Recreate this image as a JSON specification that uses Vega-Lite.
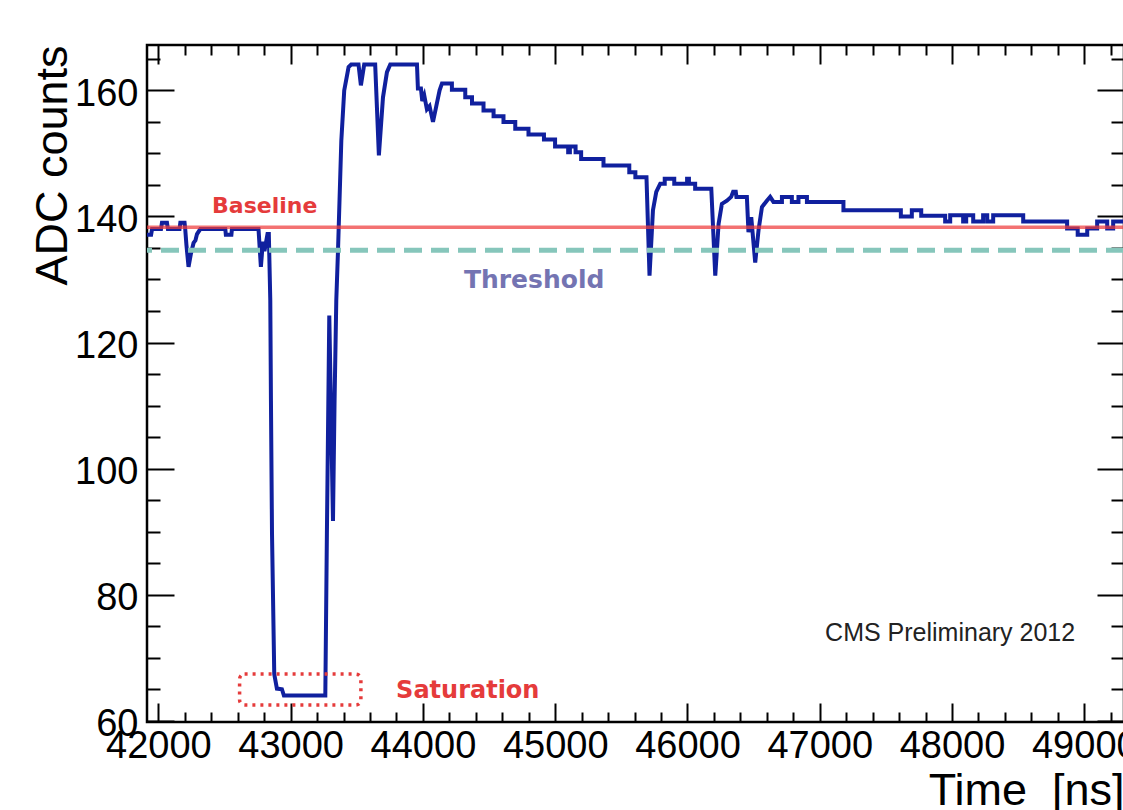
{
  "$schema": "https://vega.github.io/schema/vega-lite/v6.json",
  "width": 977,
  "height": 677,
  "autosize": {"type": "none"},
  "padding": {"left": 147, "top": 45, "right": 0, "bottom": 88},
  "background": "white",
  "config": {"view": {"stroke": "#000", "strokeWidth": 2.5}},
  "resolve": {"axis": {"x": "independent", "y": "independent"}},
  "layer": [
    {
      "data": {"values": [
        {"t":41914,"adc":137.1},{"t":41945,"adc":137.1},{"t":41952,"adc":138},{"t":42020,"adc":138},{"t":42027,"adc":139},{"t":42065,"adc":139},{"t":42072,"adc":138},
        {"t":42160,"adc":138},{"t":42166,"adc":139},{"t":42198,"adc":139},{"t":42203,"adc":138},{"t":42212,"adc":135.5},{"t":42228,"adc":132},{"t":42245,"adc":134},{"t":42266,"adc":135.8},{"t":42280,"adc":136.2},{"t":42292,"adc":137.2},{"t":42317,"adc":138},
        {"t":42506,"adc":138},{"t":42510,"adc":137.1},{"t":42552,"adc":137.1},{"t":42556,"adc":138},{"t":42757,"adc":138},{"t":42775,"adc":132},{"t":42790,"adc":136},{"t":42802,"adc":134.5},{"t":42825,"adc":137.2},{"t":42835,"adc":137.2},
        {"t":42846,"adc":126.7},{"t":42851,"adc":110.8},{"t":42859,"adc":89.7},{"t":42876,"adc":67.4},{"t":42896,"adc":65.1},{"t":42934,"adc":65},{"t":42949,"adc":64},{"t":43262,"adc":64},
        {"t":43274,"adc":89.7},{"t":43292,"adc":124.3},{"t":43320,"adc":91.7},{"t":43332,"adc":110.8},{"t":43345,"adc":126.7},{"t":43358,"adc":134.6},{"t":43383,"adc":152},{"t":43405,"adc":160},{"t":43438,"adc":163.7},{"t":43458,"adc":164.1},
        {"t":43513,"adc":164.1},{"t":43531,"adc":160.8},{"t":43556,"adc":164.1},{"t":43639,"adc":164.1},{"t":43667,"adc":149.7},{"t":43698,"adc":158.9},{"t":43728,"adc":162.9},{"t":43753,"adc":164.1},{"t":43955,"adc":164.1},
        {"t":43962,"adc":160.3},{"t":43985,"adc":160.3},{"t":43995,"adc":158.3},{"t":44010,"adc":159.2},{"t":44030,"adc":157},{"t":44050,"adc":157.5},{"t":44076,"adc":155},{"t":44101,"adc":157.5},{"t":44126,"adc":160},{"t":44144,"adc":161.1},
        {"t":44219,"adc":161.1},{"t":44219,"adc":160.1},{"t":44320,"adc":160.1},{"t":44320,"adc":158.9},{"t":44371,"adc":158.9},{"t":44371,"adc":157.9},{"t":44458,"adc":157.9},{"t":44458,"adc":156.8},{"t":44534,"adc":156.8},{"t":44534,"adc":155.9},
        {"t":44609,"adc":155.9},{"t":44609,"adc":155},{"t":44698,"adc":155},{"t":44698,"adc":153.9},{"t":44798,"adc":153.9},{"t":44798,"adc":153},{"t":44915,"adc":153},{"t":44915,"adc":152.2},{"t":44999,"adc":152.2},{"t":44999,"adc":151.1},
        {"t":45098,"adc":151.1},{"t":45098,"adc":150.2},{"t":45111,"adc":150.2},{"t":45111,"adc":151.1},{"t":45154,"adc":151.1},{"t":45154,"adc":150.2},{"t":45196,"adc":150.2},{"t":45196,"adc":149.1},{"t":45365,"adc":149.1},{"t":45365,"adc":148.1},
        {"t":45560,"adc":148.1},{"t":45560,"adc":147},{"t":45606,"adc":147},{"t":45606,"adc":146.2},{"t":45690,"adc":146.2},{"t":45713,"adc":130.6},{"t":45739,"adc":141},{"t":45764,"adc":143.9},{"t":45794,"adc":145.2},
        {"t":45828,"adc":145.2},{"t":45828,"adc":146},{"t":45900,"adc":146},{"t":45900,"adc":145.2},{"t":45997,"adc":145.2},{"t":45997,"adc":146},{"t":46011,"adc":146},{"t":46011,"adc":145.2},{"t":46058,"adc":145.2},{"t":46058,"adc":144.4},{"t":46180,"adc":144.4},
        {"t":46210,"adc":130.6},{"t":46235,"adc":138.8},{"t":46260,"adc":142},{"t":46298,"adc":142.5},{"t":46330,"adc":143.1},{"t":46345,"adc":143.9},{"t":46365,"adc":143.9},{"t":46370,"adc":143.1},{"t":46449,"adc":143.1},
        {"t":46461,"adc":137.5},{"t":46482,"adc":139.9},{"t":46512,"adc":132.7},{"t":46537,"adc":137.8},{"t":46563,"adc":141.5},{"t":46600,"adc":142.5},{"t":46625,"adc":143.1},{"t":46650,"adc":142.3},
        {"t":46714,"adc":142.3},{"t":46714,"adc":143.1},{"t":46789,"adc":143.1},{"t":46789,"adc":142.3},{"t":46839,"adc":142.3},{"t":46839,"adc":143.1},{"t":46903,"adc":143.1},{"t":46903,"adc":142.3},{"t":47179,"adc":142.3},{"t":47179,"adc":141},
        {"t":47613,"adc":141},{"t":47613,"adc":140},{"t":47696,"adc":140},{"t":47696,"adc":141},{"t":47767,"adc":141},{"t":47767,"adc":140.1},{"t":47948,"adc":140.1},{"t":47948,"adc":139.2},{"t":47986,"adc":139.2},{"t":47986,"adc":140.2},
        {"t":48084,"adc":140.2},{"t":48084,"adc":139.2},{"t":48107,"adc":139.2},{"t":48107,"adc":140.2},{"t":48160,"adc":140.2},{"t":48160,"adc":139.2},{"t":48235,"adc":139.2},{"t":48235,"adc":140.2},{"t":48266,"adc":140.2},{"t":48266,"adc":139.2},
        {"t":48311,"adc":139.2},{"t":48311,"adc":140.2},{"t":48538,"adc":140.2},{"t":48538,"adc":139.2},{"t":48870,"adc":139.2},{"t":48870,"adc":138.1},{"t":48950,"adc":138.1},{"t":48950,"adc":137.1},{"t":49022,"adc":137.1},{"t":49022,"adc":138.1},
        {"t":49097,"adc":138.1},{"t":49097,"adc":139.2},{"t":49173,"adc":139.2},{"t":49173,"adc":138.1},{"t":49218,"adc":138.1},{"t":49218,"adc":139.2},{"t":49300,"adc":139.2}
      ]},
      "mark": {"type": "line", "color": "#10209e", "strokeWidth": 4, "clip": true},
      "encoding": {
        "x": {
          "field": "t", "type": "quantitative",
          "scale": {"domain": [41914, 49300], "nice": false, "zero": false},
          "axis": {
            "orient": "bottom", "domain": false, "grid": false,
            "values": [42000,42200,42400,42600,42800,43000,43200,43400,43600,43800,44000,44200,44400,44600,44800,45000,45200,45400,45600,45800,46000,46200,46400,46600,46800,47000,47200,47400,47600,47800,48000,48200,48400,48600,48800,49000,49200],
            "tickColor": "#000", "tickWidth": 2,
            "tickSize": {"condition": {"test": "datum.value % 1000 === 0", "value": -19}, "value": -10},
            "format": "d",
            "labelExpr": "datum.value % 1000 === 0 ? datum.label : ''",
            "labelFont": "Liberation Sans", "labelFontSize": 38, "labelColor": "#000",
            "labelPadding": 24, "labelOverlap": false, "labelFlush": false, "labelBound": false,
            "title": "Time\u00a0\u00a0[ns]", "titleFont": "Liberation Sans", "titleFontSize": 45, "titleFontWeight": "normal", "titleColor": "#000",
            "titleX": 977, "titleY": 82, "titleAlign": "right", "titleBaseline": "alphabetic", "titleAnchor": "end"
          }
        },
        "y": {
          "field": "adc", "type": "quantitative",
          "scale": {"domain": [59.8, 167.2], "nice": false, "zero": false},
          "axis": {
            "orient": "left", "domain": false, "grid": false,
            "values": [60,65,70,75,80,85,90,95,100,105,110,115,120,125,130,135,140,145,150,155,160,165],
            "tickColor": "#000", "tickWidth": 2,
            "tickSize": {"condition": {"test": "datum.value % 20 === 0", "value": -27}, "value": -13},
            "labelExpr": "datum.value % 20 === 0 ? datum.label : ''",
            "labelFont": "Liberation Sans", "labelFontSize": 38, "labelColor": "#000",
            "labelPadding": 36, "labelOffset": 4, "labelOverlap": false, "labelFlush": false, "labelBound": false,
            "title": "ADC counts", "titleFont": "Liberation Sans", "titleFontSize": 45, "titleFontWeight": "normal", "titleColor": "#000",
            "titleX": -81, "titleY": 0, "titleAngle": -90, "titleAlign": "right", "titleBaseline": "alphabetic", "titleAnchor": "end"
          }
        }
      }
    },
    {
      "data": {"values": [{"name": "Baseline", "adc": 138.3}]},
      "mark": {"type": "rule", "color": "#ee3b3b", "opacity": 0.72, "strokeWidth": 3.5},
      "encoding": {"y": {"field": "adc", "type": "quantitative", "scale": {"domain": [59.8, 167.2], "nice": false, "zero": false}, "axis": null}}
    },
    {
      "data": {"values": [{"name": "Threshold", "adc": 134.65}]},
      "mark": {"type": "rule", "color": "#86c6bb", "strokeWidth": 5, "strokeDash": [18, 9]},
      "encoding": {"y": {"field": "adc", "type": "quantitative", "scale": {"domain": [59.8, 167.2], "nice": false, "zero": false}, "axis": null}}
    },
    {
      "data": {"values": [{"t1": 42614, "t2": 43531, "a1": 67.4, "a2": 62.5}]},
      "mark": {"type": "rect", "fillOpacity": 0, "stroke": "#e53b3b", "strokeWidth": 3.5, "strokeDash": [3, 5], "cornerRadius": 5},
      "encoding": {
        "x": {"field": "t1", "type": "quantitative", "scale": {"domain": [41914, 49300], "nice": false, "zero": false}, "axis": null},
        "x2": {"field": "t2"},
        "y": {"field": "a1", "type": "quantitative", "scale": {"domain": [59.8, 167.2], "nice": false, "zero": false}, "axis": null},
        "y2": {"field": "a2"}
      }
    },
    {
      "data": {"values": [{"label": "Baseline", "t": 42804, "adc": 140.6}]},
      "mark": {"type": "text", "font": "DejaVu Sans", "fontWeight": "bold", "fontSize": 22, "color": "#e53b3b", "align": "center", "baseline": "alphabetic"},
      "encoding": {
        "x": {"field": "t", "type": "quantitative", "scale": {"domain": [41914, 49300], "nice": false, "zero": false}, "axis": null},
        "y": {"field": "adc", "type": "quantitative", "scale": {"domain": [59.8, 167.2], "nice": false, "zero": false}, "axis": null},
        "text": {"field": "label"}
      }
    },
    {
      "data": {"values": [{"label": "Threshold", "t": 44841, "adc": 128.6}]},
      "mark": {"type": "text", "font": "DejaVu Sans", "fontWeight": "bold", "fontSize": 25, "color": "#7474b2", "align": "center", "baseline": "alphabetic"},
      "encoding": {
        "x": {"field": "t", "type": "quantitative", "scale": {"domain": [41914, 49300], "nice": false, "zero": false}, "axis": null},
        "y": {"field": "adc", "type": "quantitative", "scale": {"domain": [59.8, 167.2], "nice": false, "zero": false}, "axis": null},
        "text": {"field": "label"}
      }
    },
    {
      "data": {"values": [{"label": "Saturation", "t": 44339, "adc": 63.65}]},
      "mark": {"type": "text", "font": "DejaVu Sans", "fontWeight": "bold", "fontSize": 24, "color": "#e53b3b", "align": "center", "baseline": "alphabetic"},
      "encoding": {
        "x": {"field": "t", "type": "quantitative", "scale": {"domain": [41914, 49300], "nice": false, "zero": false}, "axis": null},
        "y": {"field": "adc", "type": "quantitative", "scale": {"domain": [59.8, 167.2], "nice": false, "zero": false}, "axis": null},
        "text": {"field": "label"}
      }
    },
    {
      "data": {"values": [{"label": "CMS Preliminary 2012", "t": 48931, "adc": 72.7}]},
      "mark": {"type": "text", "font": "Liberation Sans", "fontSize": 25, "color": "#222222", "align": "right", "baseline": "alphabetic"},
      "encoding": {
        "x": {
          "field": "t", "type": "quantitative",
          "scale": {"domain": [41914, 49300], "nice": false, "zero": false},
          "axis": {
            "orient": "top", "domain": false, "grid": false, "labels": false, "title": null,
            "values": [42000,42200,42400,42600,42800,43000,43200,43400,43600,43800,44000,44200,44400,44600,44800,45000,45200,45400,45600,45800,46000,46200,46400,46600,46800,47000,47200,47400,47600,47800,48000,48200,48400,48600,48800,49000,49200],
            "tickColor": "#000", "tickWidth": 2,
            "tickSize": {"condition": {"test": "datum.value % 1000 === 0", "value": -19}, "value": -10}
          }
        },
        "y": {
          "field": "adc", "type": "quantitative",
          "scale": {"domain": [59.8, 167.2], "nice": false, "zero": false},
          "axis": {
            "orient": "right", "domain": false, "grid": false, "labels": false, "title": null,
            "values": [60,65,70,75,80,85,90,95,100,105,110,115,120,125,130,135,140,145,150,155,160,165],
            "tickColor": "#000", "tickWidth": 2,
            "tickSize": {"condition": {"test": "datum.value % 20 === 0", "value": -27}, "value": -13}
          }
        },
        "text": {"field": "label"}
      }
    }
  ]
}
